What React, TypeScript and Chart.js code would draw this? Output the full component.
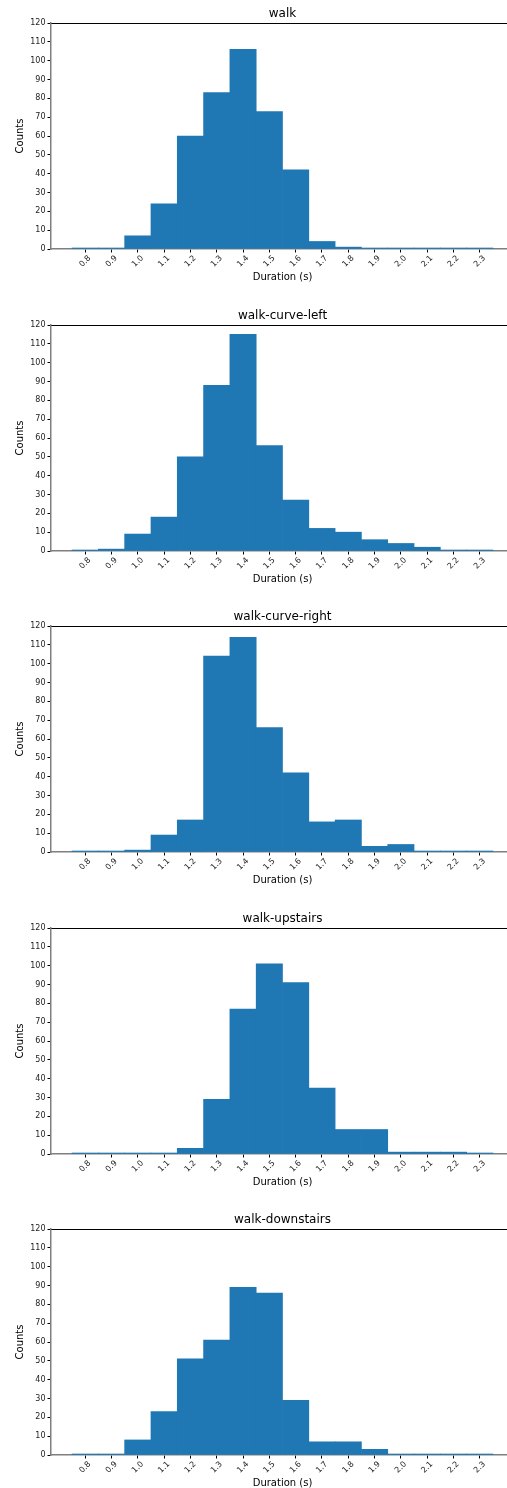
import { useEffect, useRef } from "react";
import { Chart, registerables } from "chart.js";

Chart.register(...registerables);

// Bin centres (s) and their tick labels
const binCenters = [0.8, 0.9, 1.0, 1.1, 1.2, 1.3, 1.4, 1.5, 1.6, 1.7, 1.8, 1.9, 2.0, 2.1, 2.2, 2.3];
const tickLabels = ["0.8", "0.9", "1.0", "1.1", "1.2", "1.3", "1.4", "1.5", "1.6", "1.7", "1.8", "1.9", "2.0", "2.1", "2.2", "2.3"];
const yTicks = [0, 10, 20, 30, 40, 50, 60, 70, 80, 90, 100, 110, 120];

// Counts per bin for each activity
const walk = [0, 0, 7, 24, 60, 83, 106, 73, 42, 4, 1, 0, 0, 0, 0, 0];
const walkCurveLeft = [0, 1, 9, 18, 50, 88, 115, 56, 27, 12, 10, 6, 4, 2, 0, 0];
const walkCurveRight = [0, 0, 1, 9, 17, 104, 114, 66, 42, 16, 17, 3, 4, 0, 0, 0];
const walkUpstairs = [0, 0, 0, 0, 3, 29, 77, 101, 91, 35, 13, 13, 1, 1, 1, 0];
const walkDownstairs = [0, 0, 8, 23, 51, 61, 89, 86, 29, 7, 7, 3, 0, 0, 0, 0];

const titles = ["walk", "walk-curve-left", "walk-curve-right", "walk-upstairs", "walk-downstairs"];
const seriesList = [walk, walkCurveLeft, walkCurveRight, walkUpstairs, walkDownstairs];
const panelTops = [0, 302, 603, 905, 1206];

const FAMILY = "'DejaVu Sans', sans-serif";
const X_MIN = 0.67;
const X_MAX = 2.43;

function Panel({ title, values, top }: { title: string; values: number[]; top: number }) {
  const ref = useRef<HTMLCanvasElement>(null);
  useEffect(() => {
    if (!ref.current) return;
    const chart = new Chart(ref.current, {
      type: "bar",
      data: {
        datasets: [
          {
            data: binCenters.map((x, i) => ({ x, y: values[i] })),
            backgroundColor: "#1f77b4",
            borderWidth: 0,
            barPercentage: 1,
            categoryPercentage: 1,
            minBarLength: 1,
            xAxisID: "x",
            yAxisID: "y",
          } as any,
        ],
      },
      options: {
        responsive: false,
        animation: false,
        devicePixelRatio: 1,
        layout: { padding: { left: 0, right: 6, top: 0, bottom: 0 } },
        plugins: {
          legend: { display: false },
          tooltip: { enabled: false },
          title: {
            display: true,
            text: title,
            fullSize: false,
            color: "#000",
            font: { family: FAMILY, size: 12, weight: "normal" },
            padding: { top: 7, bottom: 1.6 },
          },
        },
        scales: {
          x: {
            type: "linear",
            position: "bottom",
            min: X_MIN,
            max: X_MAX,
            offset: false,
            afterBuildTicks: (s: any) => {
              s.ticks = binCenters.map((v) => ({ value: v }));
            },
            afterFit: (s: any) => {
              s.height = 51;
            },
            grid: {
              display: true,
              offset: false,
              drawOnChartArea: false,
              drawTicks: true,
              tickLength: 3.5,
              tickColor: "#000",
              tickWidth: 1,
            },
            border: { display: true, color: "#7f7f7f", width: 1.5 },
            ticks: {
              autoSkip: false,
              minRotation: 45,
              maxRotation: 45,
              padding: 1,
              labelOffset: 4.5,
              color: "#222",
              font: { family: FAMILY, size: 8 },
              callback: (_v: any, i: number) => tickLabels[i],
            },
            title: {
              display: true,
              text: "Duration (s)",
              color: "#000",
              font: { family: FAMILY, size: 10 },
              padding: { top: 0, bottom: 16.7 },
            },
          },
          xTop: {
            type: "linear",
            position: "top",
            min: X_MIN,
            max: X_MAX,
            display: true,
            grid: { display: false, drawTicks: false },
            ticks: { display: false },
            border: { display: true, color: "#000", width: 1 },
            afterFit: (s: any) => {
              s.height = 0;
            },
          },
          y: {
            type: "linear",
            min: 0,
            max: 120,
            afterBuildTicks: (s: any) => {
              s.ticks = yTicks.map((v) => ({ value: v }));
            },
            afterFit: (s: any) => {
              s.width = 51;
            },
            grid: {
              display: true,
              drawOnChartArea: false,
              drawTicks: true,
              tickLength: 3.5,
              tickColor: "#000",
              tickWidth: 1,
            },
            border: { display: true, color: "#7f7f7f", width: 1.5 },
            ticks: {
              padding: 2,
              color: "#222",
              font: { family: FAMILY, size: 8 },
              callback: (v: any) => String(v),
            },
            title: {
              display: true,
              text: "Counts",
              color: "#000",
              font: { family: FAMILY, size: 10 },
              padding: { top: 14.7, bottom: 0 },
            },
          },
        },
      } as any,
    });
    return () => chart.destroy();
  }, [title, values]);

  return (
    <canvas
      ref={ref}
      width={520}
      height={300}
      style={{ position: "absolute", left: 0, top, width: 520, height: 300, display: "block" }}
    />
  );
}

export default function App() {
  return (
    <div
      style={{
        position: "absolute",
        left: 0,
        top: 0,
        width: 507,
        height: 1488,
        overflow: "hidden",
        background: "#fff",
      }}
    >
      {titles.map((t, i) => (
        <Panel key={t} title={t} values={seriesList[i]} top={panelTops[i]} />
      ))}
    </div>
  );
}
